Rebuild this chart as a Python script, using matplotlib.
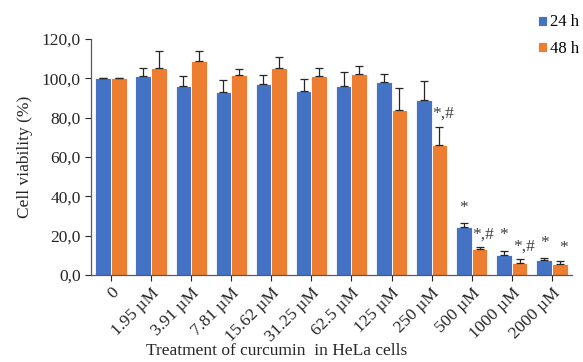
import numpy as np
import matplotlib.pyplot as plt
from matplotlib.ticker import FuncFormatter

plt.rcParams['font.family'] = ['Liberation Serif', 'DejaVu Serif']

# 농도별 세포 생존율 (%)
doses = ['0', '1.95 µM', '3.91 µM', '7.81 µM', '15.62 µM', '31.25 µM',
         '62.5 µM', '125 µM', '250 µM', '500 µM', '1000 µM', '2000 µM']
mean_24h = [100.0, 101.2, 96.1, 93.0, 97.3, 93.5, 96.4, 98.1, 88.8, 24.6, 10.2, 7.8]
sd_24h = [0.3, 4.2, 4.9, 6.3, 4.5, 6.0, 7.0, 3.9, 9.7, 1.7, 2.0, 0.7]
mean_48h = [100.0, 105.1, 108.8, 101.5, 105.1, 101.2, 102.0, 84.2, 66.1, 13.5, 6.3, 5.8]
sd_48h = [0.3, 8.8, 5.1, 3.1, 5.7, 4.2, 4.3, 10.8, 9.3, 0.7, 1.7, 1.3]

# 유의성 표시 (농도 인덱스: 문자열)
marks_24h = {9: '*', 10: '*', 11: '*'}
marks_48h = {8: '*,#', 9: '*,#', 10: '*,#', 11: '*'}

blue = '#4472C4'
orange = '#ED7D31'

fig = plt.figure(figsize=(5.83, 3.62), dpi=100)
ax = fig.add_axes([0.156, 0.240, 0.825, 0.652])

x = np.arange(len(doses))
w = 0.39
ax.bar(x - w / 2, mean_24h, w, color=blue, edgecolor='white', linewidth=0.6, label='24 h')
ax.bar(x + w / 2, mean_48h, w, color=orange, edgecolor='white', linewidth=0.6, label='48 h')
ax.errorbar(x - w / 2, mean_24h, yerr=[np.zeros(len(x)), sd_24h], fmt='none',
            ecolor='#262626', elinewidth=0.9, capsize=3, capthick=0.9)
ax.errorbar(x + w / 2, mean_48h, yerr=[np.zeros(len(x)), sd_48h], fmt='none',
            ecolor='#262626', elinewidth=0.9, capsize=3, capthick=0.9)

for i, s in marks_24h.items():
    ax.text(x[i] - w / 2, mean_24h[i] + sd_24h[i] + 4, s, ha='center', va='bottom',
            fontsize=12.5, color='#404040')
for i, s in marks_48h.items():
    ax.text(x[i] + w / 2 + 0.1, mean_48h[i] + sd_48h[i] + 2.5, s, ha='center', va='bottom',
            fontsize=12.5, color='#404040')

ax.set_ylim(0, 120)
ax.set_xlim(-0.5, len(doses) - 0.5)
ax.set_yticks(np.arange(0, 121, 20))
ax.yaxis.set_major_formatter(FuncFormatter(lambda v, p: f'{v:.1f}'.replace('.', ',')))
ax.set_xticks(x)
ax.set_xticklabels(doses, rotation=45, ha='right', rotation_mode='anchor')
ax.tick_params(axis='both', labelsize=12.5, colors='#262626', length=4, width=0.8)
ax.tick_params(axis='x', pad=3)
for side in ['top', 'right']:
    ax.spines[side].set_visible(False)
for side in ['left', 'bottom']:
    ax.spines[side].set_color('#595959')
    ax.spines[side].set_linewidth(0.9)

ax.set_ylabel('Cell viability (%)', fontsize=12.5, color='#262626', labelpad=6)
fig.text(0.475, 0.008, 'Treatment of curcumin  in HeLa cells', ha='center', va='bottom',
         fontsize=12.5, color='#262626')

fig.legend(loc='upper left', bbox_to_anchor=(0.922, 0.96), frameon=False, fontsize=12,
           handlelength=0.55, handleheight=0.55, handletextpad=0.2, labelspacing=0.65,
           borderaxespad=0, borderpad=0)

fig.savefig('out.png', dpi=100)
